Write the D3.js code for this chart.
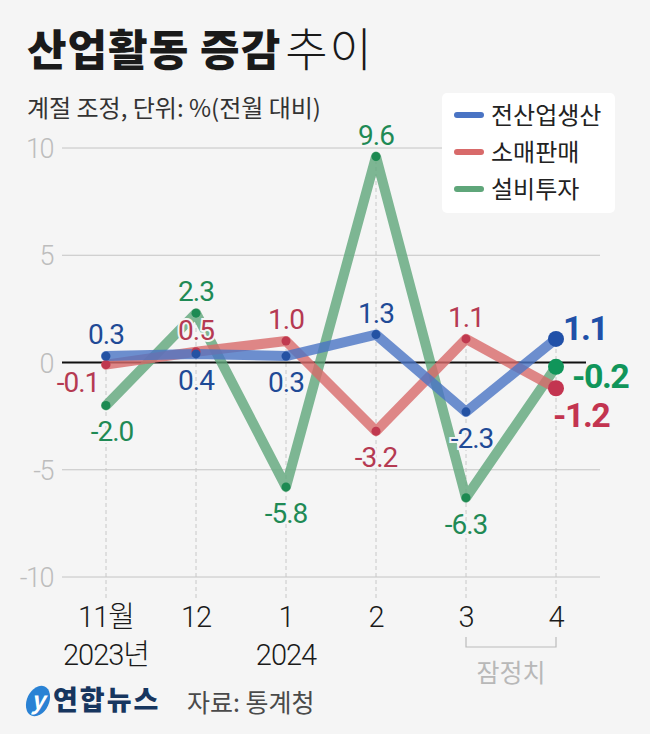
<!DOCTYPE html>
<html>
<head>
<meta charset="utf-8">
<script src="https://cdn.jsdelivr.net/npm/d3@7"></script>
<style>
  body { margin: 0; background: #f5f5f5; }
  svg { display: block; font-family: "Noto Sans CJK KR", "Noto Sans", sans-serif; }
  .num { font-family: Roboto, "Noto Sans CJK KR", sans-serif; }
</style>
</head>
<body>
<script>
var months = ["11월", "12", "1", "2", "3", "4"];
var years = ["2023년", "", "2024", "", "", ""];
var seriesNames = ["전산업생산", "소매판매", "설비투자"];
var production = [0.3, 0.4, 0.3, 1.3, -2.3, 1.1];
var retail = [-0.1, 0.5, 1.0, -3.2, 1.1, -1.2];
var investment = [-2.0, 2.3, -5.8, 9.6, -6.3, -0.2];
var yTicks = [10, 5, 0, -5, -10];
// where each value label sits
var prodPos = ["above", "below", "below", "above", "below", "end"];
var retailPos = ["left", "above", "above", "below", "above", "end"];
var investPos = ["below", "above", "below", "above", "below", "end"];

var width = 650, height = 734;

var svg = d3.select("body").append("svg")
  .attr("width", width)
  .attr("height", height);

svg.append("rect").attr("width", width).attr("height", height).attr("fill", "#f5f5f5");

// title
var title = svg.append("text").attr("x", 27).attr("y", 66).attr("font-size", 43).attr("fill", "#1a1a1a");
title.append("tspan").attr("font-weight", 900).attr("letter-spacing", 1).text("산업활동 증감");
title.append("tspan").attr("font-weight", 300).attr("font-size", 46).attr("dx", 4).attr("letter-spacing", 2).text("추이");

svg.append("text").attr("x", 27).attr("y", 117)
  .attr("font-size", 24).attr("fill", "#333").attr("letter-spacing", 0)
  .text("계절 조정, 단위: %(전월 대비)");

var x = d3.scalePoint().domain(d3.range(months.length)).range([106, 556]);
var y = d3.scaleLinear().domain([-10, 10]).range([577, 148]);

// grid
var grid = svg.append("g");
grid.selectAll("line").data(yTicks.filter(function(d) { return d !== 0; }))
  .enter().append("line")
  .attr("x1", 62).attr("x2", 600)
  .attr("y1", function(d) { return y(d); }).attr("y2", function(d) { return y(d); })
  .attr("stroke", "#c4c4c4").attr("stroke-width", 1);

svg.append("g").selectAll("text").data(yTicks).enter().append("text")
  .attr("class", "num")
  .attr("x", 53).attr("y", function(d) { return y(d) + 10; })
  .attr("text-anchor", "end").attr("font-size", 27).attr("font-weight", 300).attr("fill", "#bdbdbd")
  .attr("letter-spacing", -1.5)
  .text(function(d) { return d; });

// dashed verticals up to the highest point
svg.append("g").selectAll("line").data(months).enter().append("line")
  .attr("x1", function(d, i) { return x(i); }).attr("x2", function(d, i) { return x(i); })
  .attr("y1", 598)
  .attr("y2", function(d, i) { return y(Math.max(production[i], retail[i], investment[i])); })
  .attr("stroke", "#c8c8c8").attr("stroke-dasharray", "4,3");

// zero line
svg.append("line").attr("x1", 62).attr("x2", 586).attr("y1", y(0)).attr("y2", y(0))
  .attr("stroke", "#111").attr("stroke-width", 2);

var series = [
  { name: seriesNames[2], values: investment, pos: investPos, line: "#5fa67a", dot: "#1d8a52", label: "#1f8a55", end: "#10955a", off: [16, 21] },
  { name: seriesNames[1], values: retail, pos: retailPos, line: "#d86a6a", dot: "#c0394f", label: "#b53a52", end: "#c33450", off: [-3, 39] },
  { name: seriesNames[0], values: production, pos: prodPos, line: "#4a74c4", dot: "#2452a3", label: "#1f4a96", end: "#2050a8", off: [7, 1] }
];

var line = d3.line().x(function(d, i) { return x(i); }).y(function(d) { return y(d); });

series.forEach(function(s) {
  svg.append("path").datum(s.values)
    .attr("d", line).attr("fill", "none")
    .attr("stroke", s.line).attr("stroke-width", 10)
    .attr("stroke-opacity", 0.8)
    .attr("stroke-linecap", "round").attr("stroke-linejoin", "round");
});

series.forEach(function(s) {
  var n = s.values.length;
  svg.append("g").selectAll("circle").data(s.values).enter().append("circle")
    .attr("cx", function(d, i) { return x(i); })
    .attr("cy", function(d) { return y(d); })
    .attr("r", function(d, i) { return i === n - 1 ? 8 : 4.5; })
    .attr("fill", function(d, i) { return i === n - 1 ? s.end : s.dot; });
});

series.forEach(function(s) {
  svg.append("g").selectAll("text").data(s.values).enter().append("text")
    .attr("class", "num")
    .attr("x", function(d, i) {
      if (s.pos[i] === "left") return x(i) - 28;
      if (s.pos[i] === "end") return x(i) + s.off[0];
      if (s.pos[i] === "below" && d < 0 && d > -3) return x(i) + 6;
      return x(i);
    })
    .attr("y", function(d, i) {
      var p = s.pos[i];
      if (p === "above") return y(d) - 12;
      if (p === "below") return y(d) + 36;
      if (p === "left") return y(d) + 27;
      return y(d) + s.off[1];
    })
    .attr("text-anchor", function(d, i) { return s.pos[i] === "end" ? "start" : "middle"; })
    .attr("font-size", function(d, i) { return s.pos[i] === "end" ? 34 : 28; })
    .attr("font-weight", function(d, i) { return s.pos[i] === "end" ? 700 : 400; })
    .attr("letter-spacing", function(d, i) { return s.pos[i] === "end" ? -1.5 : -1; })
    .attr("fill", function(d, i) { return s.pos[i] === "end" ? s.end : s.label; })
    .attr("stroke", "#f5f5f5").attr("stroke-width", 4).attr("paint-order", "stroke")
    .text(function(d) { return d.toFixed(1); });
});

// legend
var legend = svg.append("g");
legend.append("rect").attr("x", 442).attr("y", 93).attr("width", 173).attr("height", 120)
  .attr("rx", 5).attr("fill", "#fff");
var legendItems = [series[2], series[1], series[0]];
legendItems.forEach(function(s, i) {
  var ly = 115 + i * 37;
  legend.append("line").attr("x1", 457).attr("x2", 481).attr("y1", ly).attr("y2", ly)
    .attr("stroke", s.line).attr("stroke-width", 6).attr("stroke-linecap", "round");
  legend.append("text").attr("x", 491).attr("y", ly + 9).attr("font-size", 24)
    .attr("fill", "#222").text(s.name);
});

// x axis labels
svg.append("g").selectAll("text").data(months).enter().append("text")
  .attr("class", "num")
  .attr("x", function(d, i) { return x(i); }).attr("y", 627)
  .attr("text-anchor", "middle").attr("font-size", 29).attr("font-weight", 300).attr("fill", "#1a1a1a")
  .attr("letter-spacing", -1)
  .text(function(d) { return d; });
svg.append("g").selectAll("text").data(years).enter().append("text")
  .attr("class", "num")
  .attr("x", function(d, i) { return x(i); }).attr("y", 665)
  .attr("text-anchor", "middle").attr("font-size", 29).attr("font-weight", 300).attr("fill", "#1a1a1a")
  .attr("letter-spacing", -1)
  .text(function(d) { return d; });

// provisional bracket
svg.append("path")
  .attr("d", "M" + x(4) + ",637V647H" + x(5) + "V637")
  .attr("fill", "none").attr("stroke", "#bbb").attr("stroke-width", 1.2);
svg.append("text").attr("x", (x(4) + x(5)) / 2).attr("y", 682)
  .attr("text-anchor", "middle").attr("font-size", 25).attr("fill", "#b8b8b8")
  .text("잠정치");

// logo + source
var logo = svg.append("g").attr("transform", "translate(38,701)");
logo.append("ellipse").attr("rx", 11).attr("ry", 16).attr("transform", "rotate(25)")
  .attr("fill", "#2a82d4");
logo.append("text").attr("x", 0).attr("y", 8).attr("text-anchor", "middle")
  .attr("font-size", 24).attr("font-style", "italic").attr("font-weight", 700)
  .attr("fill", "#fff").text("y");
svg.append("text").attr("x", 53).attr("y", 710).attr("font-size", 27).attr("font-weight", 900)
  .attr("fill", "#17365f").attr("letter-spacing", 2).text("연합뉴스");
svg.append("text").attr("x", 187).attr("y", 712).attr("font-size", 25).attr("fill", "#4a4a4a")
  .text("자료: 통계청");
</script>
</body>
</html>
